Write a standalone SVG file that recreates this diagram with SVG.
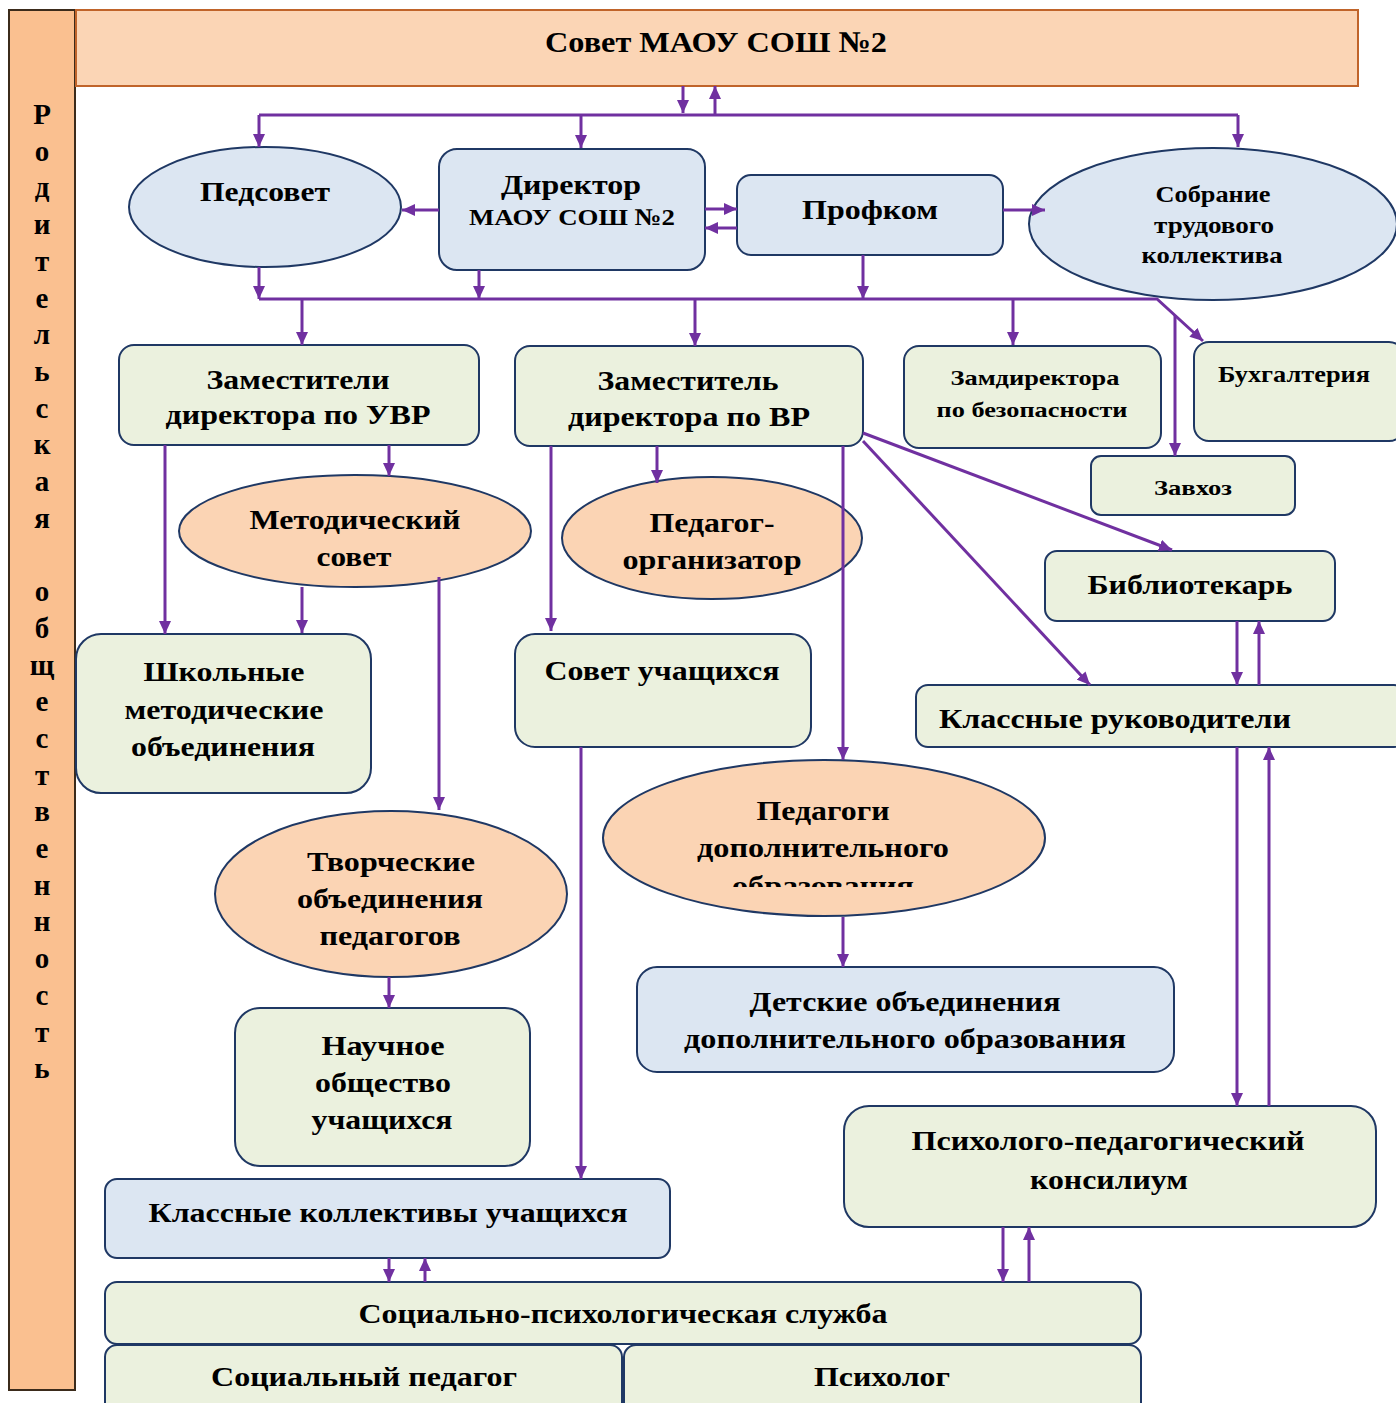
<svg xmlns="http://www.w3.org/2000/svg" width="1396" height="1403" viewBox="0 0 1396 1403">
<style>
.t{font-family:"Liberation Serif","Times New Roman",serif;font-weight:bold;fill:#000;text-anchor:middle}
.g{fill:#EBF1DE;stroke:#1F3864;stroke-width:2}
.b{fill:#DCE6F2;stroke:#1F3864;stroke-width:2}
.p{fill:#FBD4B4;stroke:#1F3864;stroke-width:2}
.c{fill:none;stroke:#7030A0;stroke-width:3}
.a{marker-end:url(#ah)}
</style>
<defs>
<marker id="ah" markerUnits="userSpaceOnUse" markerWidth="14" markerHeight="12" refX="13" refY="6" orient="auto">
<path d="M0,0 L13,6 L0,12 z" fill="#7030A0"/>
</marker>
<clipPath id="clipPdo"><rect x="600" y="750" width="450" height="137"/></clipPath>
</defs>
<rect width="1396" height="1403" fill="#fff"/>

<g id="parents">
<rect x="9" y="10" width="66" height="1380" fill="#FAC090" stroke="#3B2B1B" stroke-width="2"/>
<text class="t" font-size="29">
<tspan x="42" y="124">Р</tspan><tspan x="42" y="160.7">о</tspan><tspan x="42" y="197.4">д</tspan><tspan x="42" y="234.1">и</tspan><tspan x="42" y="270.8">т</tspan><tspan x="42" y="307.5">е</tspan><tspan x="42" y="344.2">л</tspan><tspan x="42" y="380.9">ь</tspan><tspan x="42" y="417.6">с</tspan><tspan x="42" y="454.3">к</tspan><tspan x="42" y="491">а</tspan><tspan x="42" y="527.7">я</tspan><tspan x="42" y="601.1">о</tspan><tspan x="42" y="637.8">б</tspan><tspan x="42" y="674.5">щ</tspan><tspan x="42" y="711.2">е</tspan><tspan x="42" y="747.9">с</tspan><tspan x="42" y="784.6">т</tspan><tspan x="42" y="821.3">в</tspan><tspan x="42" y="858">е</tspan><tspan x="42" y="894.7">н</tspan><tspan x="42" y="931.4">н</tspan><tspan x="42" y="968.1">о</tspan><tspan x="42" y="1004.8">с</tspan><tspan x="42" y="1041.5">т</tspan><tspan x="42" y="1078.2">ь</tspan>
</text>
</g>

<g id="council">
<rect x="76" y="10" width="1282" height="76" fill="#FBD5B5" stroke="#C0642A" stroke-width="2"/>
<text class="t" x="716" y="52" font-size="30" textLength="342" lengthAdjust="spacingAndGlyphs">Совет МАОУ СОШ №2</text>
</g>

<g id="pedsovet">
<ellipse cx="265" cy="207" rx="136" ry="60" class="b"/>
<text class="t" x="265" y="201" font-size="28" textLength="130" lengthAdjust="spacingAndGlyphs">Педсовет</text>
</g>

<g id="director">
<rect x="439" y="149" width="266" height="121" rx="18" class="b"/>
<text class="t" x="571" y="194" font-size="28" textLength="140" lengthAdjust="spacingAndGlyphs">Директор</text>
<text class="t" x="572" y="225" font-size="24" textLength="206" lengthAdjust="spacingAndGlyphs">МАОУ СОШ №2</text>
</g>

<g id="profkom">
<rect x="737" y="175" width="266" height="80" rx="14" class="b"/>
<text class="t" x="870" y="219" font-size="28" textLength="136" lengthAdjust="spacingAndGlyphs">Профком</text>
</g>

<g id="sobranie">
<ellipse cx="1213" cy="224" rx="184" ry="76" class="b"/>
<text class="t" x="1213" y="202" font-size="24" textLength="115" lengthAdjust="spacingAndGlyphs">Собрание</text>
<text class="t" x="1214" y="233" font-size="24" textLength="120" lengthAdjust="spacingAndGlyphs">трудового</text>
<text class="t" x="1212" y="263" font-size="24" textLength="141" lengthAdjust="spacingAndGlyphs">коллектива</text>
</g>

<g id="zam-uvr">
<rect x="119" y="345" width="360" height="100" rx="15" class="g"/>
<text class="t" x="298" y="389" font-size="28" textLength="183" lengthAdjust="spacingAndGlyphs">Заместители</text>
<text class="t" x="298" y="424" font-size="28" textLength="265" lengthAdjust="spacingAndGlyphs">директора по УВР</text>
</g>

<g id="zam-vr">
<rect x="515" y="346" width="348" height="100" rx="15" class="g"/>
<text class="t" x="688" y="390" font-size="28" textLength="181" lengthAdjust="spacingAndGlyphs">Заместитель</text>
<text class="t" x="689" y="426" font-size="28" textLength="242" lengthAdjust="spacingAndGlyphs">директора по ВР</text>
</g>

<g id="zam-bez">
<rect x="904" y="346" width="257" height="102" rx="15" class="g"/>
<text class="t" x="1035" y="385" font-size="22" textLength="169" lengthAdjust="spacingAndGlyphs">Замдиректора</text>
<text class="t" x="1032" y="417" font-size="22" textLength="191" lengthAdjust="spacingAndGlyphs">по безопасности</text>
</g>

<g id="buh">
<rect x="1194" y="342" width="210" height="99" rx="15" class="g"/>
<text class="t" x="1294" y="382" font-size="24" textLength="152" lengthAdjust="spacingAndGlyphs">Бухгалтерия</text>
</g>

<g id="zavhoz">
<rect x="1091" y="456" width="204" height="59" rx="10" class="g"/>
<text class="t" x="1193" y="495" font-size="22" textLength="78" lengthAdjust="spacingAndGlyphs">Завхоз</text>
</g>

<g id="metsovet">
<ellipse cx="355" cy="531" rx="176" ry="56" class="p"/>
<text class="t" x="355" y="529" font-size="28" textLength="211" lengthAdjust="spacingAndGlyphs">Методический</text>
<text class="t" x="354" y="566" font-size="28" textLength="75" lengthAdjust="spacingAndGlyphs">совет</text>
</g>

<g id="pedorg">
<ellipse cx="712" cy="538" rx="150" ry="61" class="p"/>
<text class="t" x="712" y="532" font-size="28" textLength="125" lengthAdjust="spacingAndGlyphs">Педагог-</text>
<text class="t" x="712" y="569" font-size="28" textLength="179" lengthAdjust="spacingAndGlyphs">организатор</text>
</g>

<g id="shmo">
<rect x="76" y="634" width="295" height="159" rx="25" class="g"/>
<text class="t" x="224" y="681" font-size="28" textLength="161" lengthAdjust="spacingAndGlyphs">Школьные</text>
<text class="t" x="224" y="719" font-size="28" textLength="199" lengthAdjust="spacingAndGlyphs">методические</text>
<text class="t" x="223" y="756" font-size="28" textLength="184" lengthAdjust="spacingAndGlyphs">объединения</text>
</g>

<g id="sovet-uch">
<rect x="515" y="634" width="296" height="113" rx="20" class="g"/>
<text class="t" x="662" y="680" font-size="28" textLength="235" lengthAdjust="spacingAndGlyphs">Совет учащихся</text>
</g>

<g id="biblio">
<rect x="1045" y="551" width="290" height="70" rx="12" class="g"/>
<text class="t" x="1190" y="594" font-size="28" textLength="205" lengthAdjust="spacingAndGlyphs">Библиотекарь</text>
</g>

<g id="klruk">
<rect x="916" y="685" width="490" height="62" rx="12" class="g"/>
<text class="t" x="1115" y="728" font-size="28" textLength="352" lengthAdjust="spacingAndGlyphs">Классные руководители</text>
</g>

<g id="tvorch">
<ellipse cx="391" cy="894" rx="176" ry="83" class="p"/>
<text class="t" x="391" y="871" font-size="28" textLength="168" lengthAdjust="spacingAndGlyphs">Творческие</text>
<text class="t" x="390" y="908" font-size="28" textLength="186" lengthAdjust="spacingAndGlyphs">объединения</text>
<text class="t" x="390" y="945" font-size="28" textLength="141" lengthAdjust="spacingAndGlyphs">педагогов</text>
</g>

<g id="ped-do">
<ellipse cx="824" cy="838" rx="221" ry="78" class="p"/>
<text class="t" x="823" y="820" font-size="28" textLength="133" lengthAdjust="spacingAndGlyphs">Педагоги</text>
<text class="t" x="823" y="857" font-size="28" textLength="252" lengthAdjust="spacingAndGlyphs">дополнительного</text>
<g clip-path="url(#clipPdo)">
<text class="t" x="823" y="895" font-size="28" textLength="182" lengthAdjust="spacingAndGlyphs">образования</text>
</g>
</g>

<g id="det-ob">
<rect x="637" y="967" width="537" height="105" rx="20" class="b"/>
<text class="t" x="905" y="1011" font-size="28" textLength="311" lengthAdjust="spacingAndGlyphs">Детские объединения</text>
<text class="t" x="905" y="1048" font-size="28" textLength="442" lengthAdjust="spacingAndGlyphs">дополнительного образования</text>
</g>

<g id="nauch">
<rect x="235" y="1008" width="295" height="158" rx="25" class="g"/>
<text class="t" x="383" y="1055" font-size="28" textLength="123" lengthAdjust="spacingAndGlyphs">Научное</text>
<text class="t" x="383" y="1092" font-size="28" textLength="136" lengthAdjust="spacingAndGlyphs">общество</text>
<text class="t" x="382" y="1129" font-size="28" textLength="141" lengthAdjust="spacingAndGlyphs">учащихся</text>
</g>

<g id="ppk">
<rect x="844" y="1106" width="532" height="121" rx="25" class="g"/>
<text class="t" x="1108" y="1150" font-size="28" textLength="393" lengthAdjust="spacingAndGlyphs">Психолого-педагогический</text>
<text class="t" x="1109" y="1189" font-size="28" textLength="158" lengthAdjust="spacingAndGlyphs">консилиум</text>
</g>

<g id="kl-koll">
<rect x="105" y="1179" width="565" height="79" rx="12" class="b"/>
<text class="t" x="388" y="1222" font-size="28" textLength="479" lengthAdjust="spacingAndGlyphs">Классные коллективы учащихся</text>
</g>

<g id="sps">
<rect x="105" y="1282" width="1036" height="62" rx="12" class="g"/>
<text class="t" x="623" y="1323" font-size="28" textLength="529" lengthAdjust="spacingAndGlyphs">Социально-психологическая служба</text>
</g>

<g id="socped">
<rect x="105" y="1345" width="517" height="70" rx="12" class="g"/>
<text class="t" x="364" y="1386" font-size="28" textLength="306" lengthAdjust="spacingAndGlyphs">Социальный педагог</text>
</g>

<g id="psych">
<rect x="624" y="1345" width="517" height="70" rx="12" class="g"/>
<text class="t" x="882" y="1386" font-size="28" textLength="136" lengthAdjust="spacingAndGlyphs">Психолог</text>
</g>

<g id="connectors">
<path class="c a" d="M683,86 V113"/>
<path class="c a" d="M715,115 V86"/>
<path class="c" d="M259,115 H1238"/>
<path class="c a" d="M259,115 V147"/>
<path class="c a" d="M581,115 V148"/>
<path class="c a" d="M1238,115 V147"/>
<path class="c a" d="M439,210 H402"/>
<path class="c a" d="M705,209 H737"/>
<path class="c a" d="M737,228 H705"/>
<path class="c a" d="M1003,210 H1045"/>
<path class="c a" d="M259,299 H1157 L1203,341"/>
<path class="c a" d="M259,267 V299"/>
<path class="c a" d="M479,270 V299"/>
<path class="c a" d="M863,255 V299"/>
<path class="c a" d="M302,299 V345"/>
<path class="c a" d="M695,299 V346"/>
<path class="c a" d="M1013,299 V345"/>
<path class="c a" d="M1175,315 V456"/>
<path class="c a" d="M165,445 V634"/>
<path class="c a" d="M389,445 V476"/>
<path class="c a" d="M302,587 V633"/>
<path class="c a" d="M439,577 V810"/>
<path class="c a" d="M551,446 V631"/>
<path class="c a" d="M657,446 V483"/>
<path class="c a" d="M843,446 V760"/>
<path class="c a" d="M863,433 L1172,550"/>
<path class="c a" d="M863,441 L1090,685"/>
<path class="c a" d="M389,977 V1008"/>
<path class="c a" d="M581,747 V1179"/>
<path class="c a" d="M843,917 V967"/>
<path class="c a" d="M1237,621 V685"/>
<path class="c a" d="M1259,685 V621"/>
<path class="c a" d="M1237,747 V1106"/>
<path class="c a" d="M1269,1106 V747"/>
<path class="c a" d="M1003,1227 V1282"/>
<path class="c a" d="M1029,1282 V1227"/>
<path class="c a" d="M389,1258 V1282"/>
<path class="c a" d="M425,1282 V1258"/>
</g>
</svg>
